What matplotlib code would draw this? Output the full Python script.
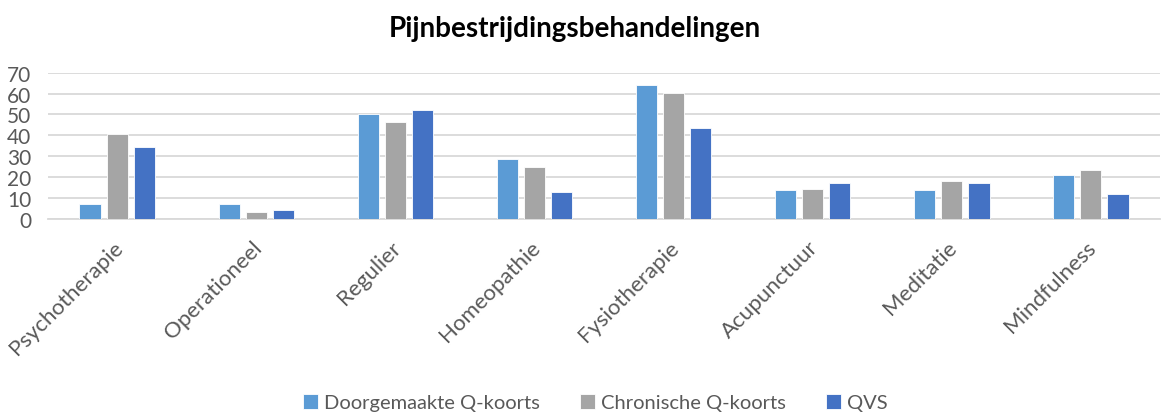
import matplotlib.pyplot as plt
import numpy as np

plt.rcParams['font.family'] = ['Lato', 'DejaVu Sans']

categories = ['Psychotherapie', 'Operationeel', 'Regulier', 'Homeopathie',
              'Fysiotherapie', 'Acupunctuur', 'Meditatie', 'Mindfulness']
doorgemaakt = [6.9, 6.9, 50.0, 28.5, 64.3, 14.0, 14.0, 21.2]
chronisch = [40.8, 3.5, 46.2, 24.9, 60.5, 14.2, 18.3, 23.6]
qvs = [34.6, 4.2, 52.2, 12.8, 43.5, 17.2, 17.2, 11.7]
series_names = ['Doorgemaakte Q-koorts', 'Chronische Q-koorts', 'QVS']
colors = ['#5b9bd5', '#a5a5a5', '#4472c4']

fig = plt.figure(figsize=(11.65, 4.14), dpi=100)
ax = fig.add_axes([0.041, 0.469, 0.955, 0.353])

x = np.arange(len(categories))
width = 0.152
step = 0.196
for i, (vals, name, c) in enumerate(zip([doorgemaakt, chronisch, qvs], series_names, colors)):
    ax.bar(x + (i - 1) * step, vals, width, color=c, label=name,
           edgecolor='white', linewidth=0.6, zorder=3)

ax.set_xlim(-0.5, len(categories) - 0.5)
ax.set_ylim(0, 70)
ax.set_yticks(range(0, 71, 10))
ax.yaxis.grid(True, color='#d9d9d9', linewidth=1.3, zorder=0)
ax.set_axisbelow(True)
for s in ['top', 'right', 'left']:
    ax.spines[s].set_visible(False)
ax.spines['bottom'].set_color('#d9d9d9')
ax.spines['bottom'].set_linewidth(1.3)
ax.tick_params(axis='both', length=0, labelcolor='#595959')
ax.tick_params(axis='y', labelsize=15, pad=12)

# label anchors sit a little left of the group centre, like in Excel
ax.set_xticks(x - 0.035)
ax.set_xticklabels(categories, rotation=45, ha='right', rotation_mode='anchor')
ax.tick_params(axis='x', labelsize=16, pad=13)

fig.text(0.493, 0.93, 'Pijnbestrijdingsbehandelingen', ha='center', va='center',
         fontsize=20, fontweight='bold', color='black')

fig.legend(loc='lower center', bbox_to_anchor=(0.511, -0.04), ncol=3, frameon=False,
           fontsize=14.5, labelcolor='#595959', handlelength=0.75, handleheight=0.75,
           handletextpad=0.3, columnspacing=2.0)

fig.savefig('out.png', dpi=100)
